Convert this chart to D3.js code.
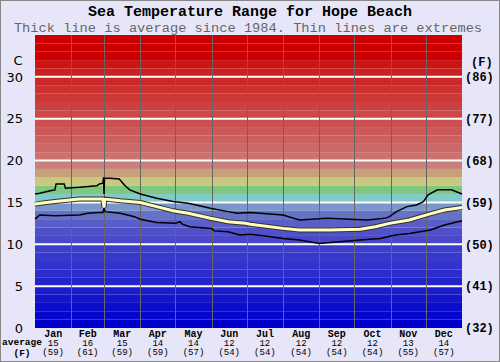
<!DOCTYPE html>
<html>
<head>
<meta charset="utf-8">
<script src="https://cdn.jsdelivr.net/npm/d3@7"></script>
<style>
  body { margin: 0; background: #fff; }
  svg { display: block; }
</style>
</head>
<body>
<div id="chart"></div>
<script>
const months = ["Jan", "Feb", "Mar", "Apr", "May", "Jun", "Jul", "Aug", "Sep", "Oct", "Nov", "Dec"];
const monthStartDays = [0, 31, 59, 90, 120, 151, 181, 212, 243, 273, 304, 334, 365];
const monthAvgC = [15, 16, 15, 14, 14, 12, 12, 12, 12, 12, 13, 14];
const monthAvgF = [59, 61, 59, 59, 57, 54, 54, 54, 54, 54, 55, 57];

const celsiusTicks = [0, 5, 10, 15, 20, 25, 30];
const fahrenheitTicks = [32, 41, 50, 59, 68, 77, 86];

// day of year / temperature (C)
const maxDays = [0, 4, 13, 17, 18, 25, 26, 38, 53, 55, 58, 58.6, 59, 59.4, 64, 72, 77, 81, 90, 104, 118, 131, 150, 165, 173, 184, 212, 226, 250, 269, 284, 299, 303, 309, 318, 326, 332, 336, 344, 356, 365];
const maxTemps = [16.0, 16.1, 16.4, 16.5, 17.2, 17.2, 16.7, 16.8, 17.0, 17.2, 17.3, 18.0, 16.0, 17.9, 17.9, 17.8, 17.0, 16.5, 16.0, 15.5, 15.1, 14.9, 14.3, 13.9, 13.7, 13.8, 13.5, 12.9, 13.1, 13.0, 12.9, 13.1, 13.3, 13.9, 14.5, 14.7, 15.1, 15.9, 16.5, 16.5, 16.0];

const avgDays = [0, 10, 17, 38, 55, 58, 59, 59.6, 73, 90, 104, 118, 131, 150, 165, 180, 184, 212, 226, 252, 278, 291, 303, 320, 337, 350, 365];
const avgTemps = [14.8, 15.0, 15.1, 15.4, 15.4, 15.4, 14.4, 15.4, 15.2, 15.0, 14.5, 14.0, 13.7, 13.1, 12.7, 12.5, 12.4, 11.9, 11.7, 11.7, 11.8, 12.1, 12.5, 12.9, 13.6, 14.1, 14.4];

const minDays = [0, 4, 17, 38, 45, 55, 58, 59, 60, 73, 85, 90, 104, 120, 124, 126, 132, 151, 153, 165, 175, 184, 197, 212, 226, 243, 260, 278, 295, 308, 320, 338, 350, 365];
const minTemps = [13.0, 13.5, 13.4, 13.5, 13.7, 13.8, 13.8, 14.3, 13.9, 13.7, 13.3, 13.0, 12.6, 12.5, 12.7, 12.4, 12.1, 11.9, 11.6, 11.5, 11.1, 11.2, 11.0, 10.7, 10.5, 10.1, 10.3, 10.5, 10.7, 11.1, 11.3, 11.7, 12.3, 12.8];

// one colour per 1 degree band, 0..35
const bandColors = [
  "#0000cc", "#0606cc", "#0c0ccc", "#1414cc", "#1c1ccc", "#2424cc", "#2c2ccc", "#3232cc",
  "#3838cc", "#3e3ecc", "#4848c8", "#5050c8", "#5a5ec8", "#6672c4", "#7a96cc", "#80caca",
  "#80c880", "#c8c880", "#c8a078", "#c88078", "#cc7070", "#cc6868", "#cc6060", "#cc5858",
  "#cc5050", "#cc4848", "#cc4040", "#cc3838", "#cc3030", "#cc2828", "#cc2020", "#cc1414",
  "#cc0000", "#cc0000", "#cc0000"
];

const W = 500, H = 362;
const plot = { left: 35, right: 462, top: 35, bottom: 328 };

const svg = d3.select("#chart").append("svg").attr("width", W).attr("height", H);

svg.append("rect")
  .attr("x", 0.5).attr("y", 0.5).attr("width", W - 1).attr("height", H - 1)
  .attr("fill", "#e6e6f8").attr("stroke", "#888");

const x = d3.scaleLinear().domain([0, 365]).range([plot.left, plot.right]);
const y = d3.scaleLinear().domain([0, 35]).range([plot.bottom, plot.top]);

// colour bands
svg.append("g").selectAll("rect")
  .data(bandColors)
  .join("rect")
  .attr("x", x(0))
  .attr("width", x(365) - x(0))
  .attr("y", (d, i) => y(i + 1))
  .attr("height", (d, i) => y(i) - y(i + 1))
  .attr("fill", (d) => d);

// horizontal grid
svg.append("g").selectAll("line")
  .data(celsiusTicks.filter((d) => d > 0))
  .join("line")
  .attr("x1", x(0)).attr("x2", x(365))
  .attr("y1", (d) => y(d)).attr("y2", (d) => y(d))
  .attr("stroke", "#fff").attr("stroke-width", 2);

// month lines
svg.append("g").selectAll("line")
  .data(monthStartDays.slice(1, 12))
  .join("line")
  .attr("x1", (d) => Math.round(x(d)) + 0.5).attr("x2", (d) => Math.round(x(d)) + 0.5)
  .attr("y1", y(35)).attr("y2", y(0))
  .attr("stroke", "#666").attr("stroke-width", 1);

const line = d3.line().x((d) => x(d[0])).y((d) => y(d[1]));

const maxData = d3.zip(maxDays, maxTemps);
const minData = d3.zip(minDays, minTemps);
const avgData = d3.zip(avgDays, avgTemps);

svg.append("path").datum(maxData).attr("d", line)
  .attr("fill", "none").attr("stroke", "#000").attr("stroke-width", 1.5);
svg.append("path").datum(minData).attr("d", line)
  .attr("fill", "none").attr("stroke", "#000").attr("stroke-width", 1.5);
svg.append("path").datum(avgData).attr("d", line)
  .attr("fill", "none").attr("stroke", "#333").attr("stroke-width", 5);
svg.append("path").datum(avgData).attr("d", line)
  .attr("fill", "none").attr("stroke", "#ffffc0").attr("stroke-width", 3);

// titles
svg.append("text")
  .attr("x", W / 2).attr("y", 16)
  .attr("text-anchor", "middle")
  .style("font", "bold 15px 'Liberation Mono', monospace")
  .attr("fill", "#000")
  .text("Sea Temperature Range for Hope Beach");

svg.append("text")
  .attr("x", W / 2 - 2).attr("y", 32)
  .attr("text-anchor", "middle")
  .style("font", "13.7px 'Liberation Mono', monospace")
  .attr("fill", "#666")
  .text("Thick line is average since 1984. Thin lines are extremes");

// left axis (C)
const leftAxis = svg.append("g");
leftAxis.selectAll("text")
  .data(celsiusTicks)
  .join("text")
  .attr("x", 23).attr("y", (d) => y(d))
  .attr("dy", "0.36em")
  .attr("text-anchor", "end")
  .style("font", "13px 'DejaVu Sans', sans-serif")
  .text((d) => d);
leftAxis.append("text")
  .attr("x", 18).attr("y", 65)
  .attr("text-anchor", "middle")
  .style("font", "13px 'DejaVu Sans', sans-serif")
  .text("C");

// right axis (F)
const rightAxis = svg.append("g");
rightAxis.selectAll("text")
  .data(fahrenheitTicks)
  .join("text")
  .attr("x", 465).attr("y", (d, i) => y(celsiusTicks[i]))
  .attr("dy", "0.36em")
  .style("font", "bold 12px 'Liberation Mono', monospace")
  .text((d) => `(${d})`);
rightAxis.append("text")
  .attr("x", 471).attr("y", 66)
  .style("font", "bold 12px 'Liberation Mono', monospace")
  .text("(F)");

// month labels
const monthG = svg.append("g").selectAll("g")
  .data(months)
  .join("g")
  .attr("transform", (d, i) => `translate(${(x(monthStartDays[i]) + x(monthStartDays[i + 1])) / 2},0)`)
  .attr("text-anchor", "middle");

monthG.append("text").attr("y", 337)
  .style("font", "bold 10px 'Liberation Mono', monospace")
  .text((d) => d);
monthG.append("text").attr("y", 346)
  .style("font", "9px 'Liberation Mono', monospace")
  .text((d, i) => monthAvgC[i]);
monthG.append("text").attr("y", 355)
  .style("font", "9px 'Liberation Mono', monospace")
  .text((d, i) => `(${monthAvgF[i]})`);

svg.append("text").attr("x", 22).attr("y", 345).attr("text-anchor", "middle")
  .style("font", "bold 9.5px 'Liberation Mono', monospace")
  .text("average");
svg.append("text").attr("x", 22).attr("y", 356).attr("text-anchor", "middle")
  .style("font", "bold 9.5px 'Liberation Mono', monospace")
  .text("(F)");
</script>
</body>
</html>
